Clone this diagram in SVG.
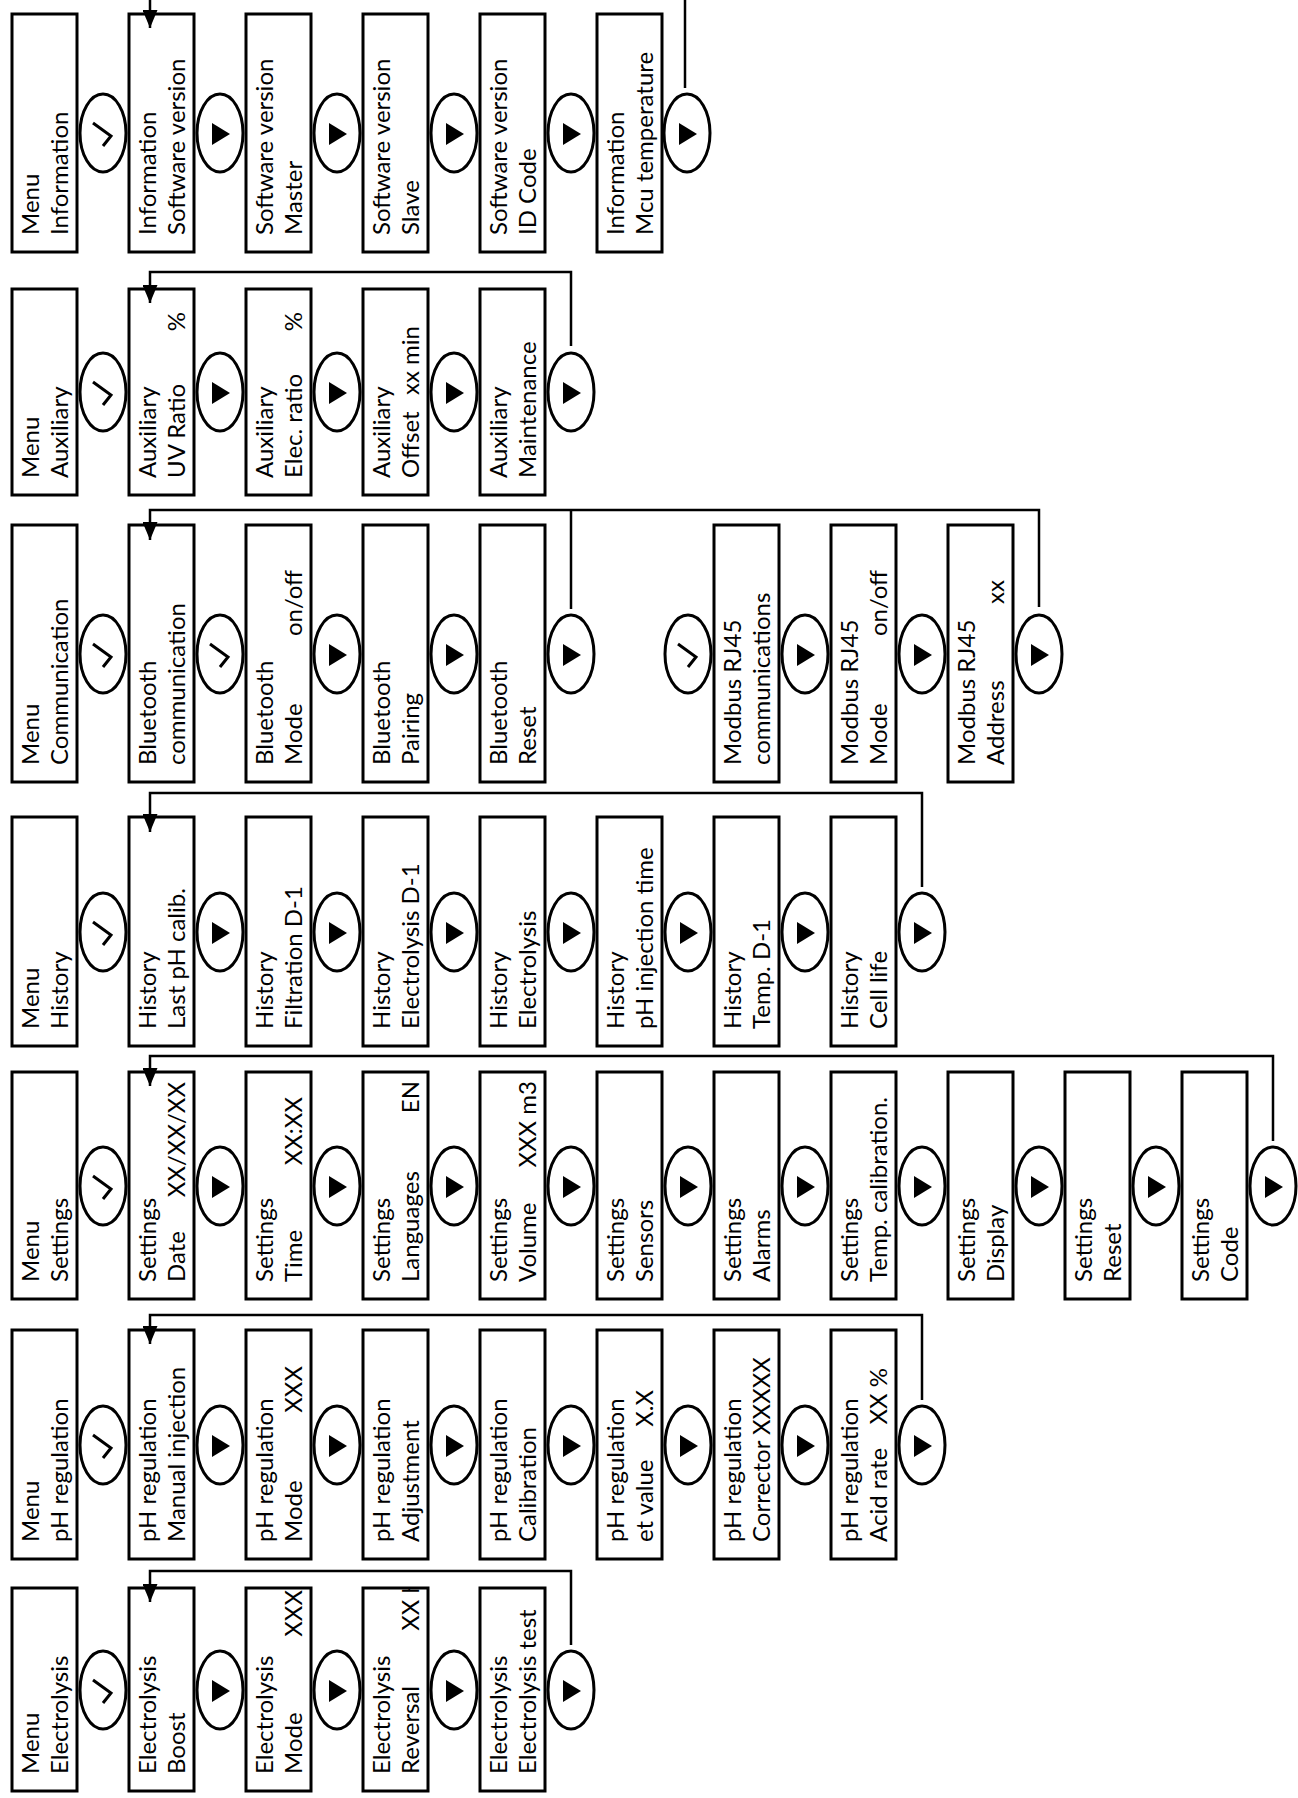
<svg xmlns="http://www.w3.org/2000/svg" width="1298" height="1798" viewBox="0 0 1298 1798">
<style>
.box{fill:#fff;stroke:#000;stroke-width:3}
.el{fill:#fff;stroke:#000;stroke-width:3}
.t{font-family:Lato,"Liberation Sans",sans-serif;font-size:24px;fill:#000}
.v{font-family:Lato,"Liberation Sans",sans-serif;font-size:24px;fill:#000;text-anchor:end}
.tri{fill:#000}
.chk{fill:none;stroke:#000;stroke-width:3;stroke-linejoin:miter}
.con{fill:none;stroke:#000;stroke-width:2.5}
</style>
<defs>
<marker id="ah" viewBox="0 0 18 15" refX="18" refY="7.5" markerWidth="18" markerHeight="15" markerUnits="userSpaceOnUse" orient="auto"><path d="M0,0 L18,7.5 L0,15 z" fill="#000"/></marker>
<path id="ck" d="M-10,-10 L8,3 L0,13"/>
<path id="tr" d="M-8,-11 L10,0 L-8,11 z"/>
<clipPath id="c72"><rect x="246" y="1588" width="65" height="203"/></clipPath>
<clipPath id="c73"><rect x="363" y="1588" width="65" height="203"/></clipPath>
</defs>

<!-- Row 1 Information -->
<g id="r1-menu"><rect class="box" x="12" y="14" width="65" height="238"/><text class="t" transform="translate(39,235) rotate(-90)">Menu</text><text class="t" transform="translate(68,235) rotate(-90)">Information</text></g>
<g id="r1-b0"><ellipse class="el" cx="103" cy="133" rx="23" ry="39"/><use href="#ck" class="chk" transform="translate(103,133)"/></g>
<g id="r1-sw"><rect class="box" x="129" y="14" width="65" height="238"/><text class="t" transform="translate(156,235) rotate(-90)">Information</text><text class="t" transform="translate(185,235) rotate(-90)">Software version</text></g>
<g id="r1-b1"><ellipse class="el" cx="220" cy="133" rx="23" ry="39"/><use href="#tr" class="tri" transform="translate(220,134)"/></g>
<g id="r1-master"><rect class="box" x="246" y="14" width="65" height="238"/><text class="t" transform="translate(273,235) rotate(-90)">Software version</text><text class="t" transform="translate(302,235) rotate(-90)">Master</text></g>
<g id="r1-b2"><ellipse class="el" cx="337" cy="133" rx="23" ry="39"/><use href="#tr" class="tri" transform="translate(337,134)"/></g>
<g id="r1-slave"><rect class="box" x="363" y="14" width="65" height="238"/><text class="t" transform="translate(390,235) rotate(-90)">Software version</text><text class="t" transform="translate(419,235) rotate(-90)">Slave</text></g>
<g id="r1-b3"><ellipse class="el" cx="454" cy="133" rx="23" ry="39"/><use href="#tr" class="tri" transform="translate(454,134)"/></g>
<g id="r1-id"><rect class="box" x="480" y="14" width="65" height="238"/><text class="t" transform="translate(507,235) rotate(-90)">Software version</text><text class="t" transform="translate(536,235) rotate(-90)">ID Code</text></g>
<g id="r1-b4"><ellipse class="el" cx="571" cy="133" rx="23" ry="39"/><use href="#tr" class="tri" transform="translate(571,134)"/></g>
<g id="r1-mcu"><rect class="box" x="597" y="14" width="65" height="238"/><text class="t" transform="translate(624,235) rotate(-90)">Information</text><text class="t" transform="translate(653,235) rotate(-90)">Mcu temperature</text></g>
<g id="r1-b5"><ellipse class="el" cx="687" cy="133" rx="23" ry="39"/><use href="#tr" class="tri" transform="translate(687,134)"/></g>

<!-- Row 2 Auxiliary -->
<g id="r2-menu"><rect class="box" x="12" y="289" width="65" height="206"/><text class="t" transform="translate(39,478) rotate(-90)">Menu</text><text class="t" transform="translate(68,478) rotate(-90)">Auxiliary</text></g>
<g id="r2-b0"><ellipse class="el" cx="103" cy="392" rx="23" ry="39"/><use href="#ck" class="chk" transform="translate(103,392)"/></g>
<g id="r2-uv"><rect class="box" x="129" y="289" width="65" height="206"/><text class="t" transform="translate(156,478) rotate(-90)">Auxiliary</text><text class="t" transform="translate(185,478) rotate(-90)">UV Ratio</text><text class="v" transform="translate(185,312) rotate(-90)">%</text></g>
<g id="r2-b1"><ellipse class="el" cx="220" cy="392" rx="23" ry="39"/><use href="#tr" class="tri" transform="translate(220,393)"/></g>
<g id="r2-elec"><rect class="box" x="246" y="289" width="65" height="206"/><text class="t" transform="translate(273,478) rotate(-90)">Auxiliary</text><text class="t" transform="translate(302,478) rotate(-90)">Elec. ratio</text><text class="v" transform="translate(302,312) rotate(-90)">%</text></g>
<g id="r2-b2"><ellipse class="el" cx="337" cy="392" rx="23" ry="39"/><use href="#tr" class="tri" transform="translate(337,393)"/></g>
<g id="r2-offset"><rect class="box" x="363" y="289" width="65" height="206"/><text class="t" transform="translate(390,478) rotate(-90)">Auxiliary</text><text class="t" transform="translate(419,478) rotate(-90)">Offset</text><text class="v" transform="translate(419,326) rotate(-90)">xx min</text></g>
<g id="r2-b3"><ellipse class="el" cx="454" cy="392" rx="23" ry="39"/><use href="#tr" class="tri" transform="translate(454,393)"/></g>
<g id="r2-maint"><rect class="box" x="480" y="289" width="65" height="206"/><text class="t" transform="translate(507,478) rotate(-90)">Auxiliary</text><text class="t" transform="translate(536,478) rotate(-90)">Maintenance</text></g>
<g id="r2-b4"><ellipse class="el" cx="571" cy="392" rx="23" ry="39"/><use href="#tr" class="tri" transform="translate(571,393)"/></g>

<!-- Row 3 Communication -->
<g id="r3-menu"><rect class="box" x="12" y="525" width="65" height="257"/><text class="t" transform="translate(39,765) rotate(-90)">Menu</text><text class="t" transform="translate(68,765) rotate(-90)">Communication</text></g>
<g id="r3-b0"><ellipse class="el" cx="103" cy="654" rx="23" ry="39"/><use href="#ck" class="chk" transform="translate(103,654)"/></g>
<g id="r3-bt"><rect class="box" x="129" y="525" width="65" height="257"/><text class="t" transform="translate(156,765) rotate(-90)">Bluetooth</text><text class="t" transform="translate(185,765) rotate(-90)">communication</text></g>
<g id="r3-b1"><ellipse class="el" cx="220" cy="654" rx="23" ry="39"/><use href="#ck" class="chk" transform="translate(220,654)"/></g>
<g id="r3-btmode"><rect class="box" x="246" y="525" width="65" height="257"/><text class="t" transform="translate(273,765) rotate(-90)">Bluetooth</text><text class="t" transform="translate(302,765) rotate(-90)">Mode</text><text class="v" transform="translate(302,570) rotate(-90)">on/off</text></g>
<g id="r3-b2"><ellipse class="el" cx="337" cy="654" rx="23" ry="39"/><use href="#tr" class="tri" transform="translate(337,655)"/></g>
<g id="r3-btpair"><rect class="box" x="363" y="525" width="65" height="257"/><text class="t" transform="translate(390,765) rotate(-90)">Bluetooth</text><text class="t" transform="translate(419,765) rotate(-90)">Pairing</text></g>
<g id="r3-b3"><ellipse class="el" cx="454" cy="654" rx="23" ry="39"/><use href="#tr" class="tri" transform="translate(454,655)"/></g>
<g id="r3-btreset"><rect class="box" x="480" y="525" width="65" height="257"/><text class="t" transform="translate(507,765) rotate(-90)">Bluetooth</text><text class="t" transform="translate(536,765) rotate(-90)">Reset</text></g>
<g id="r3-b4"><ellipse class="el" cx="571" cy="654" rx="23" ry="39"/><use href="#tr" class="tri" transform="translate(571,655)"/></g>
<g id="r3-b5"><ellipse class="el" cx="688" cy="654" rx="23" ry="39"/><use href="#ck" class="chk" transform="translate(688,654)"/></g>
<g id="r3-mb"><rect class="box" x="714" y="525" width="65" height="257"/><text class="t" transform="translate(741,765) rotate(-90)">Modbus RJ45</text><text class="t" transform="translate(770,765) rotate(-90)">communications</text></g>
<g id="r3-b6"><ellipse class="el" cx="805" cy="654" rx="23" ry="39"/><use href="#tr" class="tri" transform="translate(805,655)"/></g>
<g id="r3-mbmode"><rect class="box" x="831" y="525" width="65" height="257"/><text class="t" transform="translate(858,765) rotate(-90)">Modbus RJ45</text><text class="t" transform="translate(887,765) rotate(-90)">Mode</text><text class="v" transform="translate(887,570) rotate(-90)">on/off</text></g>
<g id="r3-b7"><ellipse class="el" cx="922" cy="654" rx="23" ry="39"/><use href="#tr" class="tri" transform="translate(922,655)"/></g>
<g id="r3-mbaddr"><rect class="box" x="948" y="525" width="65" height="257"/><text class="t" transform="translate(975,765) rotate(-90)">Modbus RJ45</text><text class="t" transform="translate(1004,765) rotate(-90)">Address</text><text class="v" transform="translate(1004,580) rotate(-90)">xx</text></g>
<g id="r3-b8"><ellipse class="el" cx="1039" cy="654" rx="23" ry="39"/><use href="#tr" class="tri" transform="translate(1039,655)"/></g>

<!-- Row 4 History -->
<g id="r4-menu"><rect class="box" x="12" y="817" width="65" height="229"/><text class="t" transform="translate(39,1029) rotate(-90)">Menu</text><text class="t" transform="translate(68,1029) rotate(-90)">History</text></g>
<g id="r4-b0"><ellipse class="el" cx="103" cy="932" rx="23" ry="39"/><use href="#ck" class="chk" transform="translate(103,932)"/></g>
<g id="r4-calib"><rect class="box" x="129" y="817" width="65" height="229"/><text class="t" transform="translate(156,1029) rotate(-90)">History</text><text class="t" transform="translate(185,1029) rotate(-90)">Last pH calib.</text></g>
<g id="r4-b1"><ellipse class="el" cx="220" cy="932" rx="23" ry="39"/><use href="#tr" class="tri" transform="translate(220,933)"/></g>
<g id="r4-filt"><rect class="box" x="246" y="817" width="65" height="229"/><text class="t" transform="translate(273,1029) rotate(-90)">History</text><text class="t" transform="translate(302,1029) rotate(-90)">Filtration D-1</text></g>
<g id="r4-b2"><ellipse class="el" cx="337" cy="932" rx="23" ry="39"/><use href="#tr" class="tri" transform="translate(337,933)"/></g>
<g id="r4-elecd"><rect class="box" x="363" y="817" width="65" height="229"/><text class="t" transform="translate(390,1029) rotate(-90)">History</text><text class="t" transform="translate(419,1029) rotate(-90)">Electrolysis D-1</text></g>
<g id="r4-b3"><ellipse class="el" cx="454" cy="932" rx="23" ry="39"/><use href="#tr" class="tri" transform="translate(454,933)"/></g>
<g id="r4-elec"><rect class="box" x="480" y="817" width="65" height="229"/><text class="t" transform="translate(507,1029) rotate(-90)">History</text><text class="t" transform="translate(536,1029) rotate(-90)">Electrolysis</text></g>
<g id="r4-b4"><ellipse class="el" cx="571" cy="932" rx="23" ry="39"/><use href="#tr" class="tri" transform="translate(571,933)"/></g>
<g id="r4-inj"><rect class="box" x="597" y="817" width="65" height="229"/><text class="t" transform="translate(624,1029) rotate(-90)">History</text><text class="t" transform="translate(653,1029) rotate(-90)">pH injection time</text></g>
<g id="r4-b5"><ellipse class="el" cx="688" cy="932" rx="23" ry="39"/><use href="#tr" class="tri" transform="translate(688,933)"/></g>
<g id="r4-temp"><rect class="box" x="714" y="817" width="65" height="229"/><text class="t" transform="translate(741,1029) rotate(-90)">History</text><text class="t" transform="translate(770,1029) rotate(-90)">Temp. D-1</text></g>
<g id="r4-b6"><ellipse class="el" cx="805" cy="932" rx="23" ry="39"/><use href="#tr" class="tri" transform="translate(805,933)"/></g>
<g id="r4-cell"><rect class="box" x="831" y="817" width="65" height="229"/><text class="t" transform="translate(858,1029) rotate(-90)">History</text><text class="t" transform="translate(887,1029) rotate(-90)">Cell life</text></g>
<g id="r4-b7"><ellipse class="el" cx="922" cy="932" rx="23" ry="39"/><use href="#tr" class="tri" transform="translate(922,933)"/></g>

<!-- Row 5 Settings -->
<g id="r5-menu"><rect class="box" x="12" y="1072" width="65" height="227"/><text class="t" transform="translate(39,1282) rotate(-90)">Menu</text><text class="t" transform="translate(68,1282) rotate(-90)">Settings</text></g>
<g id="r5-b0"><ellipse class="el" cx="103" cy="1186" rx="23" ry="39"/><use href="#ck" class="chk" transform="translate(103,1186)"/></g>
<g id="r5-date"><rect class="box" x="129" y="1072" width="65" height="227"/><text class="t" transform="translate(156,1282) rotate(-90)">Settings</text><text class="t" transform="translate(185,1282) rotate(-90)">Date</text><text class="v" transform="translate(185,1082) rotate(-90)">XX/XX/XX</text></g>
<g id="r5-b1"><ellipse class="el" cx="220" cy="1186" rx="23" ry="39"/><use href="#tr" class="tri" transform="translate(220,1187)"/></g>
<g id="r5-time"><rect class="box" x="246" y="1072" width="65" height="227"/><text class="t" transform="translate(273,1282) rotate(-90)">Settings</text><text class="t" transform="translate(302,1282) rotate(-90)">Time</text><text class="v" transform="translate(302,1097) rotate(-90)">XX:XX</text></g>
<g id="r5-b2"><ellipse class="el" cx="337" cy="1186" rx="23" ry="39"/><use href="#tr" class="tri" transform="translate(337,1187)"/></g>
<g id="r5-lang"><rect class="box" x="363" y="1072" width="65" height="227"/><text class="t" transform="translate(390,1282) rotate(-90)">Settings</text><text class="t" transform="translate(419,1282) rotate(-90)">Languages</text><text class="v" transform="translate(419,1081) rotate(-90)">EN</text></g>
<g id="r5-b3"><ellipse class="el" cx="454" cy="1186" rx="23" ry="39"/><use href="#tr" class="tri" transform="translate(454,1187)"/></g>
<g id="r5-vol"><rect class="box" x="480" y="1072" width="65" height="227"/><text class="t" transform="translate(507,1282) rotate(-90)">Settings</text><text class="t" transform="translate(536,1282) rotate(-90)">Volume</text><text class="v" transform="translate(536,1081) rotate(-90)">XXX m3</text></g>
<g id="r5-b4"><ellipse class="el" cx="571" cy="1186" rx="23" ry="39"/><use href="#tr" class="tri" transform="translate(571,1187)"/></g>
<g id="r5-sens"><rect class="box" x="597" y="1072" width="65" height="227"/><text class="t" transform="translate(624,1282) rotate(-90)">Settings</text><text class="t" transform="translate(653,1282) rotate(-90)">Sensors</text></g>
<g id="r5-b5"><ellipse class="el" cx="688" cy="1186" rx="23" ry="39"/><use href="#tr" class="tri" transform="translate(688,1187)"/></g>
<g id="r5-alarm"><rect class="box" x="714" y="1072" width="65" height="227"/><text class="t" transform="translate(741,1282) rotate(-90)">Settings</text><text class="t" transform="translate(770,1282) rotate(-90)">Alarms</text></g>
<g id="r5-b6"><ellipse class="el" cx="805" cy="1186" rx="23" ry="39"/><use href="#tr" class="tri" transform="translate(805,1187)"/></g>
<g id="r5-tcal"><rect class="box" x="831" y="1072" width="65" height="227"/><text class="t" transform="translate(858,1282) rotate(-90)">Settings</text><text class="t" transform="translate(887,1282) rotate(-90)">Temp. calibration.</text></g>
<g id="r5-b7"><ellipse class="el" cx="922" cy="1186" rx="23" ry="39"/><use href="#tr" class="tri" transform="translate(922,1187)"/></g>
<g id="r5-disp"><rect class="box" x="948" y="1072" width="65" height="227"/><text class="t" transform="translate(975,1282) rotate(-90)">Settings</text><text class="t" transform="translate(1004,1282) rotate(-90)">Display</text></g>
<g id="r5-b8"><ellipse class="el" cx="1039" cy="1186" rx="23" ry="39"/><use href="#tr" class="tri" transform="translate(1039,1187)"/></g>
<g id="r5-reset"><rect class="box" x="1065" y="1072" width="65" height="227"/><text class="t" transform="translate(1092,1282) rotate(-90)">Settings</text><text class="t" transform="translate(1121,1282) rotate(-90)">Reset</text></g>
<g id="r5-b9"><ellipse class="el" cx="1156" cy="1186" rx="23" ry="39"/><use href="#tr" class="tri" transform="translate(1156,1187)"/></g>
<g id="r5-code"><rect class="box" x="1182" y="1072" width="65" height="227"/><text class="t" transform="translate(1209,1282) rotate(-90)">Settings</text><text class="t" transform="translate(1238,1282) rotate(-90)">Code</text></g>
<g id="r5-b10"><ellipse class="el" cx="1273" cy="1186" rx="23" ry="39"/><use href="#tr" class="tri" transform="translate(1273,1187)"/></g>

<!-- Row 6 pH regulation -->
<g id="r6-menu"><rect class="box" x="12" y="1330" width="65" height="229"/><text class="t" transform="translate(39,1542) rotate(-90)">Menu</text><text class="t" transform="translate(68,1542) rotate(-90)">pH regulation</text></g>
<g id="r6-b0"><ellipse class="el" cx="103" cy="1445" rx="23" ry="39"/><use href="#ck" class="chk" transform="translate(103,1445)"/></g>
<g id="r6-man"><rect class="box" x="129" y="1330" width="65" height="229"/><text class="t" transform="translate(156,1542) rotate(-90)">pH regulation</text><text class="t" transform="translate(185,1542) rotate(-90)">Manual injection</text></g>
<g id="r6-b1"><ellipse class="el" cx="220" cy="1445" rx="23" ry="39"/><use href="#tr" class="tri" transform="translate(220,1446)"/></g>
<g id="r6-mode"><rect class="box" x="246" y="1330" width="65" height="229"/><text class="t" transform="translate(273,1542) rotate(-90)">pH regulation</text><text class="t" transform="translate(302,1542) rotate(-90)">Mode</text><text class="v" transform="translate(302,1366) rotate(-90)">XXX</text></g>
<g id="r6-b2"><ellipse class="el" cx="337" cy="1445" rx="23" ry="39"/><use href="#tr" class="tri" transform="translate(337,1446)"/></g>
<g id="r6-adj"><rect class="box" x="363" y="1330" width="65" height="229"/><text class="t" transform="translate(390,1542) rotate(-90)">pH regulation</text><text class="t" transform="translate(419,1542) rotate(-90)">Adjustment</text></g>
<g id="r6-b3"><ellipse class="el" cx="454" cy="1445" rx="23" ry="39"/><use href="#tr" class="tri" transform="translate(454,1446)"/></g>
<g id="r6-cal"><rect class="box" x="480" y="1330" width="65" height="229"/><text class="t" transform="translate(507,1542) rotate(-90)">pH regulation</text><text class="t" transform="translate(536,1542) rotate(-90)">Calibration</text></g>
<g id="r6-b4"><ellipse class="el" cx="571" cy="1445" rx="23" ry="39"/><use href="#tr" class="tri" transform="translate(571,1446)"/></g>
<g id="r6-set"><rect class="box" x="597" y="1330" width="65" height="229"/><text class="t" transform="translate(624,1542) rotate(-90)">pH regulation</text><text class="t" transform="translate(653,1542) rotate(-90)">et value</text><text class="v" transform="translate(653,1390) rotate(-90)">X.X</text></g>
<g id="r6-b5"><ellipse class="el" cx="688" cy="1445" rx="23" ry="39"/><use href="#tr" class="tri" transform="translate(688,1446)"/></g>
<g id="r6-corr"><rect class="box" x="714" y="1330" width="65" height="229"/><text class="t" transform="translate(741,1542) rotate(-90)">pH regulation</text><text class="t" transform="translate(770,1542) rotate(-90)">Corrector XXXXX</text></g>
<g id="r6-b6"><ellipse class="el" cx="805" cy="1445" rx="23" ry="39"/><use href="#tr" class="tri" transform="translate(805,1446)"/></g>
<g id="r6-acid"><rect class="box" x="831" y="1330" width="65" height="229"/><text class="t" transform="translate(858,1542) rotate(-90)">pH regulation</text><text class="t" transform="translate(887,1542) rotate(-90)">Acid rate</text><text class="v" transform="translate(887,1368) rotate(-90)">XX %</text></g>
<g id="r6-b7"><ellipse class="el" cx="922" cy="1445" rx="23" ry="39"/><use href="#tr" class="tri" transform="translate(922,1446)"/></g>

<!-- Row 7 Electrolysis -->
<g id="r7-menu"><rect class="box" x="12" y="1588" width="65" height="203"/><text class="t" transform="translate(39,1774) rotate(-90)">Menu</text><text class="t" transform="translate(68,1774) rotate(-90)">Electrolysis</text></g>
<g id="r7-b0"><ellipse class="el" cx="103" cy="1690" rx="23" ry="39"/><use href="#ck" class="chk" transform="translate(103,1690)"/></g>
<g id="r7-boost"><rect class="box" x="129" y="1588" width="65" height="203"/><text class="t" transform="translate(156,1774) rotate(-90)">Electrolysis</text><text class="t" transform="translate(185,1774) rotate(-90)">Boost</text></g>
<g id="r7-b1"><ellipse class="el" cx="220" cy="1690" rx="23" ry="39"/><use href="#tr" class="tri" transform="translate(220,1691)"/></g>
<g id="r7-mode"><rect class="box" x="246" y="1588" width="65" height="203"/><text class="t" transform="translate(273,1774) rotate(-90)">Electrolysis</text><text class="t" transform="translate(302,1774) rotate(-90)">Mode</text><g clip-path="url(#c72)"><text class="v" transform="translate(302,1590) rotate(-90)">XXX</text></g></g>
<g id="r7-b2"><ellipse class="el" cx="337" cy="1690" rx="23" ry="39"/><use href="#tr" class="tri" transform="translate(337,1691)"/></g>
<g id="r7-rev"><rect class="box" x="363" y="1588" width="65" height="203"/><text class="t" transform="translate(390,1774) rotate(-90)">Electrolysis</text><text class="t" transform="translate(419,1774) rotate(-90)">Reversal</text><g clip-path="url(#c73)"><text class="v" transform="translate(419,1580) rotate(-90)">XX h</text></g></g>
<g id="r7-b3"><ellipse class="el" cx="454" cy="1690" rx="23" ry="39"/><use href="#tr" class="tri" transform="translate(454,1691)"/></g>
<g id="r7-test"><rect class="box" x="480" y="1588" width="65" height="203"/><text class="t" transform="translate(507,1774) rotate(-90)">Electrolysis</text><text class="t" transform="translate(536,1774) rotate(-90)">Electrolysis test</text></g>
<g id="r7-b4"><ellipse class="el" cx="571" cy="1690" rx="23" ry="39"/><use href="#tr" class="tri" transform="translate(571,1691)"/></g>

<g id="connectors">
<path class="con" d="M150,0 V28" marker-end="url(#ah)"/>
<path class="con" d="M685,0 V88"/>
<path class="con" d="M571,346 V272 H150 V303" marker-end="url(#ah)"/>
<path class="con" d="M1039,607 V510 H150 V540" marker-end="url(#ah)"/>
<path class="con" d="M571,609 V510"/>
<path class="con" d="M922,887 V793 H150 V832" marker-end="url(#ah)"/>
<path class="con" d="M1273,1141 V1056 H150 V1086" marker-end="url(#ah)"/>
<path class="con" d="M922,1400 V1315 H150 V1344" marker-end="url(#ah)"/>
<path class="con" d="M571,1645 V1571 H150 V1602" marker-end="url(#ah)"/>
</g>
</svg>
